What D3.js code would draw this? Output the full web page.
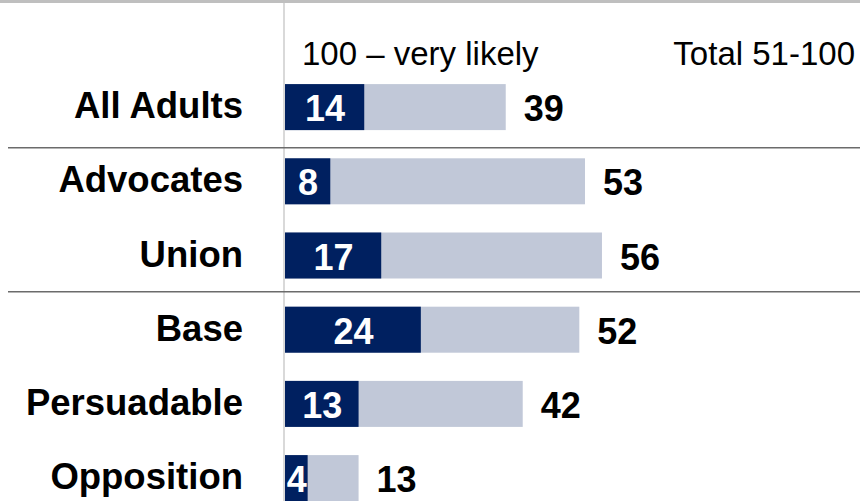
<!DOCTYPE html>
<html>
<head>
<meta charset="utf-8">
<script src="https://cdn.jsdelivr.net/npm/d3@7"></script>
<style>
  html, body { margin: 0; padding: 0; background: #fff; }
  svg { display: block; font-family: "Liberation Sans", Arial, sans-serif; }
</style>
</head>
<body>
<svg id="chart" width="860" height="501"></svg>
<script>
const categories = ["All Adults", "Advocates", "Union", "Base", "Persuadable", "Opposition"];
const veryLikely = [14, 8, 17, 24, 13, 4];
const total51to100 = [39, 53, 56, 52, 42, 13];
const headerLabels = ["100 \u2013 very likely", "Total 51-100"];
const groupBreaksBefore = ["Advocates", "Base"];

const W = 860, H = 501;
const svg = d3.select("#chart");

const x = d3.scaleLinear().domain([0, 100]).range([285, 851]);
const y = d3.scaleBand().domain(categories).range([70, 515.2])
  .paddingInner(0.38).paddingOuter(0.19);

// top band
svg.append("rect").attr("x", 0).attr("y", 0).attr("width", W).attr("height", 3).attr("fill", "#bfbfbf");

// vertical axis line
svg.append("line").attr("x1", 284).attr("x2", 284).attr("y1", 3).attr("y2", H)
  .attr("stroke", "#d9d9d9").attr("stroke-width", 2);

// separators
const sepOffsets = [10.5, 15];
groupBreaksBefore.forEach((c, i) => {
  const yy = y(c) - sepOffsets[i];
  svg.append("line").attr("x1", 8).attr("x2", W).attr("y1", yy).attr("y2", yy)
    .attr("stroke", "#6b6b6b").attr("stroke-width", 1.5);
});

const data = categories.map((c, i) => ({ c, v: veryLikely[i], t: total51to100[i] }));

// total bars
svg.selectAll("rect.total").data(data).join("rect").attr("class", "total")
  .attr("x", x(0)).attr("y", d => y(d.c))
  .attr("width", d => x(d.t) - x(0)).attr("height", y.bandwidth())
  .attr("fill", "#c1c8d8");

// very likely bars
svg.selectAll("rect.vl").data(data).join("rect").attr("class", "vl")
  .attr("x", x(0)).attr("y", d => y(d.c))
  .attr("width", d => x(d.v) - x(0)).attr("height", y.bandwidth())
  .attr("fill", "#002060");

// inner labels
svg.selectAll("text.vl").data(data).join("text").attr("class", "vl")
  .attr("x", d => (x(0) + x(d.v)) / 2 + 0.5)
  .attr("y", d => y(d.c) + y.bandwidth() / 2 + 14)
  .attr("text-anchor", "middle").attr("fill", "#fff")
  .attr("font-weight", "bold").attr("font-size", 36)
  .text(d => d.v);

// total labels
svg.selectAll("text.total").data(data).join("text").attr("class", "total")
  .attr("x", d => x(d.t) + 18)
  .attr("y", d => y(d.c) + y.bandwidth() / 2 + 14)
  .attr("fill", "#000").attr("font-weight", "bold").attr("font-size", 36)
  .text(d => d.t);

// category labels
svg.selectAll("text.cat").data(data).join("text").attr("class", "cat")
  .attr("x", 243)
  .attr("y", d => y(d.c) + y.bandwidth() / 2 + 11)
  .attr("text-anchor", "end").attr("fill", "#000")
  .attr("font-weight", "bold").attr("font-size", 36.5)
  .text(d => d.c);

// headers
svg.append("text").attr("x", 302).attr("y", 65).attr("font-size", 33).attr("fill", "#000")
  .text(headerLabels[0]);
svg.append("text").attr("x", 855).attr("y", 65).attr("font-size", 33).attr("fill", "#000")
  .attr("text-anchor", "end").text(headerLabels[1]);
</script>
</body>
</html>
